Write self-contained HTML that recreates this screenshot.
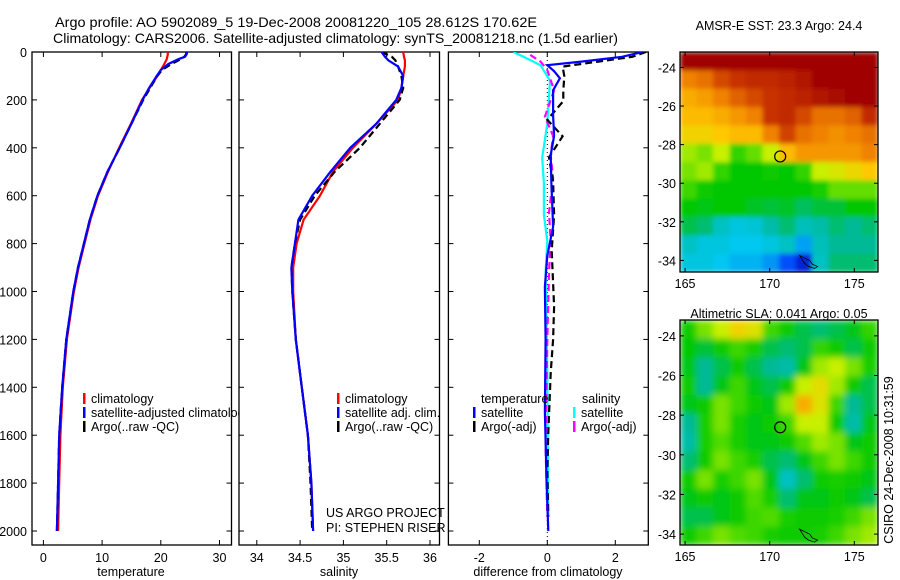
<!DOCTYPE html>
<html><head><meta charset="utf-8">
<style>
html,body{margin:0;padding:0;background:#fff;}
svg{display:block;font-family:"Liberation Sans",sans-serif;}
text{font-size:12.5px;fill:#000;}
</style></head>
<body>
<svg id="fig" width="900" height="580" viewBox="0 0 900 580" xmlns="http://www.w3.org/2000/svg">
<defs>
<clipPath id="c1"><rect x="32" y="52" width="207" height="493"/></clipPath>
<clipPath id="cp1"><rect x="32" y="52" width="199.5" height="493"/></clipPath>
<clipPath id="cp2"><rect x="239" y="52" width="200.5" height="493"/></clipPath>
<clipPath id="cp3"><rect x="448.4" y="52" width="200" height="493"/></clipPath>
<clipPath id="cm1"><rect x="680" y="52" width="198" height="220"/></clipPath>
<clipPath id="cm2"><rect x="680" y="320" width="198" height="225"/></clipPath>
<filter id="blurS" x="0" y="0" width="1" height="1"><feGaussianBlur stdDeviation="2.5" edgeMode="duplicate"/></filter>
<filter id="blurL" x="0" y="0" width="1" height="1"><feGaussianBlur stdDeviation="3.5" edgeMode="duplicate"/></filter>
</defs>
<text x="55" y="27" textLength="482" lengthAdjust="spacingAndGlyphs" style="font-size:14px">Argo profile: AO 5902089_5 19-Dec-2008 20081220_105 28.612S 170.62E</text>
<text x="53" y="43" textLength="565" lengthAdjust="spacingAndGlyphs" style="font-size:14px">Climatology: CARS2006. Satellite-adjusted climatology: synTS_20081218.nc (1.5d earlier)</text>
<g id="g"></g>
<text x="779" y="30" text-anchor="middle">AMSR-E SST: 23.3 Argo: 24.4</text>
<text x="779" y="318" text-anchor="middle">Altimetric SLA: 0.041 Argo: 0.05</text>
<text transform="translate(893,460) rotate(-90)" text-anchor="middle">CSIRO 24-Dec-2008 10:31:59</text>
<text x="326" y="517">US ARGO PROJECT</text>
<text x="326" y="532">PI: STEPHEN RISER</text>
</svg>
<script>
// ---- profile data ----
const tDepth=[0,10,20,30,50,75,100,150,200,300,400,500,600,700,800,900,1000,1200,1400,1600,1800,2000];
const tArgo=[24.4,24.3,24.0,23.4,21.8,20.2,19.4,18.2,17.0,15.0,13.0,10.9,9.2,7.9,6.9,5.9,5.1,3.9,3.2,2.7,2.5,2.3];
const tClim=[21.2,21.2,21.1,21.0,20.6,20.0,19.4,18.1,16.8,14.9,12.9,11.0,9.3,8.0,7.0,6.0,5.2,4.0,3.3,2.9,2.7,2.5];
const tSat=[24.5,24.4,24.1,23.0,21.3,20.0,19.3,18.0,16.9,15.0,13.0,10.9,9.2,7.9,6.9,5.9,5.1,3.9,3.2,2.7,2.5,2.3];
const sDepth=[0,20,35,60,100,150,200,300,400,500,600,700,800,900,1000,1200,1400,1600,1800,2000];
const sClim=[35.69,35.70,35.71,35.71,35.69,35.67,35.63,35.38,35.11,34.88,34.73,34.54,34.46,34.42,34.42,34.45,34.52,34.59,34.63,34.65];
const sArgo=[35.44,35.56,35.60,35.63,35.67,35.69,35.65,35.42,35.19,34.90,34.67,34.50,34.44,34.40,34.41,34.45,34.52,34.59,34.62,34.64];
const sSat=[35.44,35.48,35.52,35.63,35.69,35.67,35.61,35.38,35.08,34.85,34.64,34.48,34.44,34.40,34.41,34.45,34.52,34.59,34.63,34.65];
// ---- difference data ----
const dtSatDepth=[0,20,40,55,80,110,160,265,350,430,550,730,850,980,1200,1500,1800,2000];
const dtSat=[2.8,2.2,1.0,0.0,0.2,0.37,0.17,0.17,0.2,0.1,0.12,0.17,0.0,-0.07,-0.05,-0.07,-0.02,0.03];
const dtArgoDepth=[0,20,40,61,100,163,205,283,352,440,540,680,830,1063,1200,1340,1590,1750,1940];
const dtArgo=[2.9,2.5,1.5,0.45,0.5,0.47,0.47,0.0,0.45,0.05,0.17,0.2,0.13,0.2,0.17,0.1,0.03,0.0,0.03];
const dsSatDepth=[0,20,55,120,300,440,550,680,790,920,1340,1940];
const dsSat=[-1.0,-0.7,-0.2,0.08,0.0,-0.15,-0.1,-0.1,0.0,-0.05,0.0,0.03];
const dsArgoDepth=[12,40,75,160,270,350,430,530,670,790,920,1200,1645,1940];
const dsArgo=[-0.5,-0.2,0.0,0.2,-0.07,0.17,0.1,0.17,0.05,0.1,0.05,0.0,-0.05,0.0];
// ---- ticks ----
const depthTicks=[0,200,400,600,800,1000,1200,1400,1600,1800,2000];
const tempTicks=[0,10,20,30];
const salTicks=[34,34.5,35,35.5,36];
const salTickLabels=["34","34.5","35","35.5","36"];
const diffTicks=[-2,0,2];
const latTicks=[-24,-26,-28,-30,-32,-34];
const lonTicks=[165,170,175];
// ---- map grids (colour index 0..1), rows north->south ----
const sstGrid=[
[1,1,1,1,1,1,1,1,1,1,1,1],
[0.78,0.8,0.85,0.88,0.9,0.9,0.92,0.95,1,1,1,1],
[0.72,0.74,0.78,0.82,0.85,0.88,0.9,0.92,0.95,0.98,1,1],
[0.7,0.7,0.72,0.75,0.78,0.88,0.9,0.85,0.8,0.8,0.82,0.9],
[0.66,0.66,0.68,0.7,0.7,0.78,0.86,0.8,0.78,0.76,0.78,0.8],
[0.58,0.56,0.6,0.52,0.55,0.6,0.7,0.75,0.75,0.75,0.75,0.78],
[0.56,0.58,0.52,0.48,0.48,0.49,0.48,0.52,0.6,0.62,0.65,0.68],
[0.53,0.49,0.48,0.48,0.48,0.48,0.48,0.48,0.5,0.55,0.55,0.55],
[0.48,0.47,0.48,0.48,0.46,0.45,0.46,0.43,0.45,0.45,0.48,0.48],
[0.44,0.42,0.35,0.32,0.33,0.38,0.42,0.36,0.38,0.42,0.4,0.42],
[0.35,0.32,0.32,0.3,0.3,0.32,0.35,0.26,0.36,0.4,0.4,0.4],
[0.32,0.32,0.3,0.28,0.28,0.25,0.18,0.1,0.35,0.42,0.42,0.42]];
const slaGrid=[
[0.49,0.56,0.6,0.66,0.63,0.53,0.49,0.44,0.42,0.44,0.47,0.52],
[0.48,0.45,0.49,0.53,0.5,0.44,0.42,0.44,0.52,0.49,0.44,0.49],
[0.47,0.4,0.44,0.49,0.44,0.4,0.38,0.47,0.58,0.6,0.56,0.5],
[0.49,0.4,0.47,0.53,0.47,0.44,0.49,0.6,0.64,0.58,0.49,0.44],
[0.47,0.49,0.56,0.53,0.49,0.47,0.58,0.72,0.63,0.53,0.4,0.44],
[0.4,0.5,0.56,0.5,0.47,0.49,0.53,0.6,0.6,0.49,0.38,0.47],
[0.38,0.5,0.54,0.5,0.47,0.47,0.49,0.54,0.58,0.56,0.47,0.49],
[0.42,0.49,0.56,0.53,0.5,0.44,0.42,0.47,0.53,0.56,0.53,0.49],
[0.49,0.56,0.5,0.53,0.56,0.47,0.35,0.42,0.49,0.5,0.49,0.47],
[0.47,0.49,0.47,0.49,0.54,0.5,0.42,0.47,0.47,0.49,0.47,0.44],
[0.44,0.44,0.47,0.49,0.53,0.54,0.5,0.49,0.49,0.5,0.53,0.56],
[0.49,0.53,0.56,0.54,0.53,0.5,0.49,0.49,0.5,0.53,0.56,0.58]];
const floatLon=170.62, floatLat=-28.612;

const NS="http://www.w3.org/2000/svg";
const G=document.getElementById('g');
function mk(tag,attrs,parent){const e=document.createElementNS(NS,tag);for(const k in attrs)e.setAttribute(k,attrs[k]);(parent||G).appendChild(e);return e;}
const yD=d=>52+d*0.2395;
const xT=t=>43.4+t*5.87;
const xS=s=>256.8+(s-34)*86.6;
const xDf=v=>547.3+v*34;

function axesBox(x0,x1,name){
  const r=mk('rect',{x:x0,y:52,width:x1-x0,height:493,fill:'none',stroke:'#000','stroke-width':1.3});
  
  
  depthTicks.forEach(d=>{
    mk('line',{x1:x0,x2:x0+5,y1:yD(d),y2:yD(d),stroke:'#000'});
    mk('line',{x1:x1,x2:x1-5,y1:yD(d),y2:yD(d),stroke:'#000'});
  });
}
function xTicks(vals,labels,fx,name){
  vals.forEach((v,i)=>{
    const x=fx(v);
    mk('line',{x1:x,x2:x,y1:52,y2:57,stroke:'#000'});
    mk('line',{x1:x,x2:x,y1:545,y2:540,stroke:'#000'});
    const t=mk('text',{x:x,y:562,'text-anchor':'middle'});t.textContent=labels[i];
    
    
  });
}
function line(xs,ds,fx,color,dash,name,clip){
  const p=xs.map((v,i)=>(i?'L':'M')+fx(v).toFixed(1)+','+yD(ds[i]).toFixed(1)).join('');
  const a={d:p,fill:'none',stroke:color,'stroke-width':2.2,'clip-path':'url(#'+clip+')'};
  if(dash)a['stroke-dasharray']=dash;
  const e=mk('path',a);
  
  
}
function lbl(x,y,s,name,anchor){const t=mk('text',{x:x,y:y,'text-anchor':anchor||'start'});t.textContent=s;
  
  return t;}
function legItem(x,y,color,s,name,clip){
  mk('rect',{x:x,y:y-10,width:2.5,height:11,fill:color});
  const t=lbl(x+8,y,s,name);
  if(clip)t.setAttribute('clip-path','url(#'+clip+')');
}

// panel 1 temperature
axesBox(32,231.5,'temperature-axes');
depthTicks.forEach(d=>lbl(27,yD(d)+5,String(d),'depth-tick-label','end'));
xTicks(tempTicks,tempTicks.map(String),xT,'temperature');
lbl(131,576,'temperature','temperature-axis-title','middle');
line(tClim,tDepth,xT,'#ff0000',null,'temperature-climatology-line','cp1');
line(tArgo,tDepth,xT,'#000','7,4','temperature-argo-line','cp1');
line(tSat,tDepth,xT,'#0000ff',null,'temperature-satellite-line','cp1');
legItem(83,403,'#ff0000','climatology','legend-climatology');
legItem(83,417,'#0000ff','satellite-adjusted climatology','legend-satellite-adjusted','c1');
legItem(83,431,'#000','Argo(..raw -QC)','legend-argo');

// panel 2 salinity
axesBox(239,439.5,'salinity-axes');
xTicks(salTicks,salTickLabels,xS,'salinity');
lbl(339,576,'salinity','salinity-axis-title','middle');
line(sClim,sDepth,xS,'#ff0000',null,'salinity-climatology-line','cp2');
line(sArgo,sDepth,xS,'#000','7,4','salinity-argo-line','cp2');
line(sSat,sDepth,xS,'#0000ff',null,'salinity-satellite-line','cp2');
legItem(337,403,'#ff0000','climatology','legend-sal-climatology');
legItem(337,417,'#0000ff','satellite adj. clim.','legend-sal-satellite');
legItem(337,431,'#000','Argo(..raw -QC)','legend-sal-argo');

// panel 3 differences
axesBox(448.4,648.3,'difference-axes');
xTicks(diffTicks,diffTicks.map(String),xDf,'difference');
lbl(548,576,'difference from climatology','difference-axis-title','middle');
mk('line',{x1:xDf(0),x2:xDf(0),y1:52,y2:545,stroke:'#000','stroke-dasharray':'1,3','stroke-width':1});
line(dsSat,dsSatDepth,xDf,'#00ffff',null,'salinity-satellite-diff-line','cp3');
line(dsArgo,dsArgoDepth,xDf,'#ff00ff','7,4','salinity-argo-diff-line','cp3');
line(dtArgo,dtArgoDepth,xDf,'#000','7,4','temperature-argo-diff-line','cp3');
line(dtSat,dtSatDepth,xDf,'#0000ff',null,'temperature-satellite-diff-line','cp3');
lbl(481,403,'temperature','legend-temperature-header');
legItem(473,417,'#0000ff','satellite','legend-temp-satellite');
legItem(473,431,'#000','Argo(-adj)','legend-temp-argo');
lbl(582,403,'salinity','legend-salinity-header');
legItem(573,417,'#00ffff','satellite','legend-sal-diff-satellite');
legItem(573,431,'#ff00ff','Argo(-adj)','legend-sal-diff-argo');

// maps
const stops=[[0,[0,0,140]],[0.15,[0,50,255]],[0.3,[0,200,240]],[0.4,[0,185,150]],[0.48,[0,200,0]],[0.53,[60,215,0]],[0.6,[200,240,0]],[0.68,[255,200,0]],[0.78,[240,130,0]],[0.88,[200,50,0]],[1,[160,0,0]]];
function cmap(v){v=Math.max(0,Math.min(1,v));for(let i=1;i<stops.length;i++){if(v<=stops[i][0]){const a=stops[i-1],b=stops[i],f=(v-a[0])/(b[0]-a[0]);return 'rgb('+a[1].map((c,k)=>Math.round(c+(b[1][k]-c)*f)).join(',')+')';}}return 'rgb(160,0,0)';}
function drawMap(grid,top,bottom,latBottom,clip,name,blur){
  const lon0=164.7,lon1=176.4,lat0=-23.2;
  const mx=l=>680+(l-lon0)*(198/(lon1-lon0));
  const my=l=>top+(lat0-l)*((bottom-top)/(lat0-latBottom));
  const outer=mk('g',{'clip-path':'url(#'+clip+')'});
  const g=mk('g',{filter:'url(#'+blur+')'},outer);
  
  
  const rows=grid.length,cols=grid[0].length;
  const dLon=(lon1-lon0)/cols,dLat=(lat0-latBottom)/rows;
  grid.forEach((row,r)=>row.forEach((v,c)=>{
    const x0=mx(lon0+c*dLon),x1=mx(lon0+(c+1)*dLon),y0=my(lat0-r*dLat),y1=my(lat0-(r+1)*dLat);
    const cell=mk('rect',{x:x0,y:y0,width:x1-x0+0.5,height:y1-y0+0.5,fill:cmap(v)},g);
    
    
  }));
  const cx=mx(172),cy=my(-34);
  mk('path',{d:`M${cx-4},${cy-5} l6,3 l4,2 l3,4 l5,2 l-3,2 l-6,-2 l-4,-3 z`,fill:'none',stroke:'#000','stroke-width':0.8},outer);
  const box=mk('rect',{x:680,y:top,width:198,height:bottom-top,fill:'none',stroke:'#000','stroke-width':1.3});
  
  
  latTicks.forEach(l=>{const y=my(l);
    mk('line',{x1:680,x2:684,y1:y,y2:y,stroke:'#000'});mk('line',{x1:878,x2:874,y1:y,y2:y,stroke:'#000'});
    lbl(676,y+5,String(l),name+'-lat-label','end');});
  lonTicks.forEach(l=>{const x=mx(l);
    mk('line',{x1:x,x2:x,y1:top,y2:top+4,stroke:'#000'});mk('line',{x1:x,x2:x,y1:bottom,y2:bottom-4,stroke:'#000'});
    lbl(x,bottom+16,String(l),name+'-lon-label','middle');});
  const dot=mk('circle',{cx:mx(floatLon),cy:my(floatLat),r:5.5,fill:'none',stroke:'#000','stroke-width':1.2});
  
  
}
drawMap(sstGrid,52,272,-34.6,'cm1','sst-map','blurS');
drawMap(slaGrid,320,545,-34.55,'cm2','sla-map','blurL');
</script>
</body></html>
